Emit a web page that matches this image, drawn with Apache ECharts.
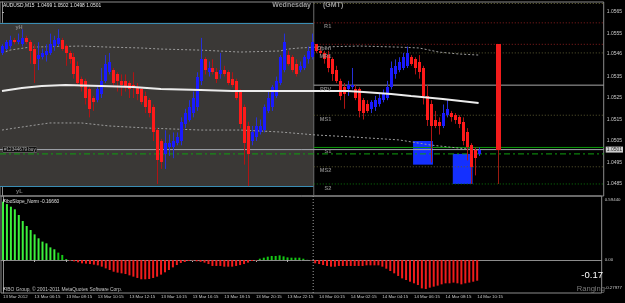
<!DOCTYPE html>
<html><head><meta charset="utf-8">
<script src="https://cdn.jsdelivr.net/npm/echarts@6/dist/echarts.min.js"></script>
<style>html,body{margin:0;padding:0;background:#000;}#c{width:625px;height:303px;}</style>
</head><body><div id="c"></div>
<script>
// ---------------- DATA ----------------
const tickLabels = ['13 Mar 2012','13 Mar 06:15','13 Mar 08:15','13 Mar 10:15','13 Mar 12:15','13 Mar 14:15','13 Mar 16:15','13 Mar 18:15','13 Mar 20:15','13 Mar 22:15','14 Mar 00:15','14 Mar 02:15','14 Mar 04:15','14 Mar 06:15','14 Mar 08:15','14 Mar 10:15'];
const priceTicks = [1.0565,1.0555,1.05455,1.0535,1.0525,1.0515,1.0505,1.0495,1.0485];
const priceTickLabels = ['1.0565','1.0555','1.0546','1.0535','1.0525','1.0515','1.0505','1.0495','1.0485'];
const indTicks = [0.5944,0,-0.27977];
const indTickLabels = ['0.59440','0.00','-0.27977'];

const opens = [1.0546,1.0548,1.0549,1.0552,1.0551,1.0550,1.0553,1.0551,1.0548,1.0543,1.0544,1.0545,1.0546,1.0549,1.0550,1.0552,1.0549,1.0546,1.0544,1.0540,
1.0534,1.0533,1.0529,1.0525,1.0524,1.0527,1.0533,1.0537,1.0538,1.0536,1.0533,1.0533,1.0532,1.0531,1.0530,1.0529,1.0526,1.0524,1.0521,1.0510,
1.0505,1.0499,1.0502,1.0502,1.0504,1.0505,1.0513,1.0515,1.0518,1.0521,1.0533,1.0543,1.0537,1.0539,1.0537,1.0536,1.0538,1.0537,1.0534,1.0533,
1.0528,1.0521,1.0512,1.0505,1.0507,1.0509,1.0510,1.0519,1.0521,1.0526,1.0532,1.0538,1.0545,1.0544,1.0541,1.0538,1.0539,1.0543,1.0544,1.0550,
1.0547,1.0546,1.0545,1.0543,1.0538,1.0533,1.0530,1.0529,1.0530,1.0529,1.0529,1.0524,1.0522,1.0520,1.0521,1.0522,1.0524,1.0525,1.0530,1.0536,
1.0538,1.0539,1.0540,1.0544,1.0543,1.0542,1.0539,1.0526,1.0522,1.0515,1.0514,1.0512,1.0517,1.0518,1.0517,1.0516,1.0514,1.0509,1.0503,1.0501,1.0499];
const closes = [1.0549,1.0551,1.0552,1.0551,1.0552,1.0553,1.0551,1.0547,1.0541,1.0545,1.0546,1.0547,1.0550,1.0552,1.0553,1.0548,1.0546,1.0543,1.0536,1.0532,
1.0530,1.0525,1.0520,1.0523,1.0529,1.0533,1.0541,1.0542,1.0532,1.0533,1.0531,1.0530,1.0529,1.0530,1.0527,1.0523,1.0521,1.0518,1.0509,1.0496,
1.0495,1.0504,1.0504,1.0505,1.0507,1.0514,1.0518,1.0521,1.0525,1.0535,1.0543,1.0538,1.0539,1.0537,1.0534,1.0538,1.0536,1.0532,1.0531,1.0525,
1.0513,1.0504,1.0499,1.0509,1.0512,1.0512,1.0521,1.0525,1.0530,1.0533,1.0544,1.0551,1.0541,1.0538,1.0536,1.0540,1.0544,1.0547,1.0551,1.0547,
1.0546,1.0543,1.0539,1.0536,1.0533,1.0526,1.0527,1.0531,1.0531,1.0525,1.0519,1.0518,1.0519,1.0523,1.0524,1.0525,1.0527,1.0530,1.0539,1.0540,
1.0542,1.0544,1.0546,1.0541,1.0539,1.0537,1.0526,1.0515,1.0512,1.0512,1.0512,1.0518,1.0520,1.0516,1.0515,1.0513,1.0505,1.0502,1.0493,1.0497,1.0501];
const highs = [1.0550,1.0552,1.0554,1.0553,1.0555,1.0557,1.0554,1.0552,1.0550,1.0551,1.0548,1.0550,1.0555,1.0554,1.0557,1.0553,1.0550,1.0547,1.0546,1.0542,
1.0535,1.0534,1.0530,1.0526,1.0531,1.0539,1.0545,1.0546,1.0539,1.0537,1.0536,1.0536,1.0533,1.0537,1.0532,1.0530,1.0528,1.0525,1.0522,1.0511,
1.0506,1.0510,1.0508,1.0509,1.0509,1.0516,1.0520,1.0524,1.0528,1.0537,1.0553,1.0544,1.0542,1.0543,1.0539,1.0546,1.0540,1.0538,1.0537,1.0534,
1.0529,1.0522,1.0514,1.0512,1.0516,1.0515,1.0522,1.0528,1.0531,1.0535,1.0545,1.0555,1.0547,1.0545,1.0543,1.0542,1.0545,1.0549,1.0555,1.0550,
1.0549,1.0547,1.0547,1.0544,1.0540,1.0534,1.0532,1.0533,1.0539,1.0531,1.0530,1.0525,1.0524,1.0524,1.0526,1.0527,1.0529,1.0533,1.0542,1.0543,
1.0544,1.0546,1.0549,1.0545,1.0544,1.0545,1.0540,1.0531,1.0524,1.0519,1.0516,1.0522,1.0524,1.0519,1.0518,1.0517,1.0516,1.0511,1.0504,1.0502,1.0502];
const lows = [1.0545,1.0547,1.0548,1.0550,1.0550,1.0549,1.0550,1.0541,1.0532,1.0538,1.0543,1.0542,1.0545,1.0547,1.0549,1.0547,1.0540,1.0541,1.0534,1.0531,
1.0528,1.0522,1.0516,1.0519,1.0523,1.0525,1.0532,1.0536,1.0531,1.0528,1.0526,1.0528,1.0525,1.0525,1.0524,1.0522,1.0518,1.0516,1.0505,1.0485,
1.0492,1.0492,1.0498,1.0497,1.0503,1.0503,1.0511,1.0514,1.0516,1.0519,1.0531,1.0536,1.0535,1.0536,1.0532,1.0534,1.0535,1.0531,1.0530,1.0524,
1.0511,1.0494,1.0484,1.0503,1.0505,1.0508,1.0509,1.0518,1.0519,1.0525,1.0531,1.0537,1.0540,1.0537,1.0535,1.0537,1.0538,1.0541,1.0543,1.0546,
1.0545,1.0541,1.0537,1.0533,1.0532,1.0524,1.0520,1.0526,1.0529,1.0524,1.0516,1.0515,1.0518,1.0518,1.0519,1.0521,1.0523,1.0524,1.0529,1.0534,
1.0537,1.0538,1.0539,1.0540,1.0536,1.0534,1.0522,1.0512,1.0495,1.0511,1.0508,1.0511,1.0516,1.0514,1.0513,1.0511,1.0503,1.0496,1.0485,1.0489,1.0498];

// today's daily bar (open, close, low, high) drawn right of price
const dayBarIndex = 125;
const dayBar = [1.0550, 1.0501, 1.0485, 1.0550];

// moving average and envelope points [bar index, price]
const maPoints = [[0,1.05283],[5,1.05297],[10,1.05306],[16,1.05311],[25,1.05306],[33,1.05301],[40,1.05292],[50,1.05287],[58,1.05283],[70,1.05283],[79,1.05283],[87,1.05283],[91,1.05278],[98,1.05269],[103,1.05259],[111,1.05245],[120,1.05227]];
const upperBand = [[0,1.05459],[2,1.05473],[7,1.05487],[20,1.05492],[27,1.05487],[35,1.05483],[40,1.05478],[50,1.05473],[60,1.05464],[70,1.05469],[72,1.05478],[75,1.05483],[79,1.05487],[90,1.05492],[100,1.05487],[105,1.05483],[110,1.05464],[115,1.05455],[120,1.05450]];
const lowerBand = [[0,1.05101],[5,1.05115],[12,1.05134],[20,1.05134],[27,1.05120],[37,1.05110],[50,1.05101],[60,1.05101],[70,1.05092],[79,1.05078],[88,1.05069],[100,1.05055],[108,1.05031],[115,1.05017],[120,1.05008]];

// previous day range, pivots, order, bid
const dayBreak = 78.5;
const yHigh = 1.0560, yLow = 1.0484;
const pivotNames = ['R1','Open','MR1','PPV','MS1','S1','MS2','S2'];
const pivotLevels = [1.0560,1.0550,1.0546,1.0531,1.0517,1.0502,1.0493,1.0485];
const topLevel = 1.0569;
const bidPrice = 1.0501;
const orderPrice = 1.0499;
const orderText = '#12344679 buy';

// range boxes
const boxStart = [104, 114];
const boxEnd = [108, 118];
const boxHigh = [1.0505, 1.0499];
const boxLow = [1.0494, 1.0485];

// FiboSlope_Norm histogram
const slope = [0.578,0.554,0.528,0.502,0.446,0.386,0.337,0.297,0.254,0.215,0.182,0.165,0.125,0.106,0.073,0.050,0.010,
-0.007,-0.013,-0.023,-0.033,-0.036,-0.040,-0.046,-0.053,-0.066,-0.083,-0.099,-0.116,-0.125,-0.132,-0.139,-0.152,-0.165,-0.178,-0.191,-0.191,
-0.188,-0.178,-0.165,-0.145,-0.122,-0.099,-0.073,-0.050,-0.030,-0.020,-0.010,-0.007,-0.013,-0.018,-0.026,-0.040,-0.059,-0.059,-0.059,-0.066,
-0.066,-0.066,-0.059,-0.050,-0.040,-0.026,-0.010,-0.007,0.013,0.023,0.033,0.040,0.040,0.046,0.036,0.026,0.023,0.023,0.023,0.013,0.003,-0.007,
-0.033,-0.040,-0.050,-0.059,-0.066,-0.066,-0.059,-0.059,-0.059,-0.059,-0.059,-0.059,-0.059,-0.053,-0.053,-0.053,-0.053,-0.066,-0.086,-0.109,
-0.132,-0.158,-0.182,-0.198,-0.215,-0.231,-0.248,-0.281,-0.287,-0.274,-0.264,-0.254,-0.241,-0.231,-0.231,-0.224,-0.231,-0.241,-0.231,-0.224,-0.215,-0.205];

// ---------------- CHART ----------------
const FONT = 'Liberation Sans';
const N = 152;
const cats = Array.from({length: N}, (_, i) => i);
const xMin = -0.5, xMax = N - 0.5;
const pMin = 1.04794, pMax = 1.05697;
const iMin = -0.3269, iMax = 0.6340;

const candleData = opens.map((o, i) => [i, o, closes[i], lows[i], highs[i]]);

function candleRender(bodyW, upFill, dnFill, upWick, dnWick) {
  return function (params, api) {
    const i = api.value(0), o = api.value(1), c = api.value(2), l = api.value(3), h = api.value(4);
    const pH = api.coord([i, h]), pL = api.coord([i, l]), pO = api.coord([i, o]), pC = api.coord([i, c]);
    const cx = Math.round(pH[0]);
    const up = c >= o;
    const top = Math.round(Math.min(pO[1], pC[1]));
    const bot = Math.round(Math.max(pO[1], pC[1]));
    return {type: 'group', children: [
      {type: 'line', shape: {x1: cx + 0.5, y1: pH[1], x2: cx + 0.5, y2: pL[1]}, style: {stroke: up ? upWick : dnWick, lineWidth: 1}},
      {type: 'rect', shape: {x: cx + 0.5 - bodyW / 2, y: top, width: bodyW, height: Math.max(1, bot - top)}, style: {fill: up ? upFill : dnFill}}
    ]};
  };
}

function hline(price, x0, x1, color, type, width, z) {
  return {type: 'line', xAxisIndex: 1, yAxisIndex: 0, data: [[x0, price], [x1, price]], symbol: 'none', silent: true,
    lineStyle: {color: color, type: type, width: width || 1}, z: z || 2};
}

const pivotStyle = {
  R1: ['#8a1f1f', [1, 2]], Open: ['#8a1f1f', [1, 2]], MR1: ['#5c5a32', [1, 2]], PPV: ['#a8a8a8', 'solid'],
  MS1: ['#5c5a32', [1, 2]], S1: ['#0a9a0a', 'solid'], MS2: ['#5c5a32', [1, 2]], S2: ['#0b7a0b', [1, 2]]
};

const series = [];
// previous day shaded range
series.push({type: 'custom', xAxisIndex: 1, yAxisIndex: 0, z: 1, silent: true,
  data: [[xMin, dayBreak, yHigh, yLow]],
  renderItem: function (params, api) {
    const a = api.coord([api.value(0), api.value(2)]);
    const b = api.coord([api.value(1), api.value(3)]);
    return {type: 'group', children: [
      {type: 'rect', shape: {x: a[0], y: a[1], width: b[0] - a[0], height: b[1] - a[1]}, style: {fill: '#3a3836'}},
      {type: 'line', shape: {x1: a[0], y1: Math.round(a[1]) + 0.5, x2: b[0], y2: Math.round(a[1]) + 0.5}, style: {stroke: '#3a8db4', lineWidth: 1}},
      {type: 'line', shape: {x1: a[0], y1: Math.round(b[1]) + 0.5, x2: b[0], y2: Math.round(b[1]) + 0.5}, style: {stroke: '#3a8db4', lineWidth: 1}}
    ]};
  }});
// range boxes
series.push({type: 'custom', xAxisIndex: 1, yAxisIndex: 0, z: 2, silent: true,
  data: boxStart.map((s, k) => [s, boxEnd[k], boxHigh[k], boxLow[k]]),
  renderItem: function (params, api) {
    const a = api.coord([api.value(0) - 0.5, api.value(2)]);
    const b = api.coord([api.value(1) + 0.5, api.value(3)]);
    return {type: 'rect', shape: {x: a[0], y: a[1], width: b[0] - a[0], height: b[1] - a[1]}, style: {fill: '#1430ff'}};
  }});
// separator (main)
series.push({type: 'line', xAxisIndex: 1, yAxisIndex: 0, symbol: 'none', silent: true, z: 2,
  data: [[dayBreak, pMin], [dayBreak, pMax]], lineStyle: {color: '#6e6e6e', width: 1}});
// pivots
series.push(hline(topLevel, dayBreak, xMax, '#6b6a3a', [1, 2], 1, 2));
pivotNames.forEach((n, k) => {
  series.push(hline(pivotLevels[k], dayBreak, xMax, pivotStyle[n][0], pivotStyle[n][1], 1, 2));
});
// bid + order lines
series.push(hline(bidPrice, xMin, xMax, '#a4a8b0', 'solid', 1, 3));
series.push(hline(orderPrice, xMin, xMax, '#10a010', [6, 3, 2, 3], 1, 3));
// envelopes
[upperBand, lowerBand].forEach(b => series.push({type: 'line', xAxisIndex: 1, yAxisIndex: 0, data: b, symbol: 'none', silent: true, z: 3,
  lineStyle: {color: '#9c9c9c', width: 1, type: [2, 2]}}));
// candles
series.push({type: 'custom', xAxisIndex: 0, yAxisIndex: 0, z: 4, silent: true, data: candleData,
  renderItem: candleRender(3, '#1a1aff', '#ff1a1a', '#2630d8', '#b01414')});
// daily bar
series.push({type: 'custom', xAxisIndex: 0, yAxisIndex: 0, z: 4, silent: true,
  data: [[dayBarIndex, dayBar[0], dayBar[1], dayBar[2], dayBar[3]]],
  renderItem: candleRender(5, '#1a1aff', '#f21c1c', '#2630d8', '#9a1a10')});
// moving average
series.push({type: 'line', xAxisIndex: 1, yAxisIndex: 0, data: maPoints, symbol: 'none', silent: true, z: 5,
  lineStyle: {color: '#ececec', width: 2}});
// text labels inside main chart
const lbl = [];
pivotNames.forEach((n, k) => lbl.push({value: [82.9, pivotLevels[k]], label: {formatter: n}}));
lbl.push({value: [5.2, yHigh], label: {formatter: 'yH', offset: [0, 2]}});
lbl.push({value: [5.2, yLow], label: {formatter: 'yL', offset: [0, 2]}});
series.push({type: 'scatter', xAxisIndex: 1, yAxisIndex: 0, symbolSize: 0.1, itemStyle: {color: 'transparent'}, silent: true, z: 6,
  data: lbl,
  label: {show: true, position: 'inside', align: 'right', verticalAlign: 'top', offset: [0, 1], color: '#9a9a9a',
    fontFamily: FONT, fontSize: 5.6, fontWeight: 'bold'}});
series.push({type: 'scatter', xAxisIndex: 1, yAxisIndex: 0, symbolSize: 0.1, itemStyle: {color: 'transparent'}, silent: true, z: 7,
  data: [{value: [xMin, bidPrice], label: {formatter: orderText}}],
  label: {show: true, position: 'inside', align: 'left', verticalAlign: 'middle', offset: [3, 0], color: '#d8d8d8',
    backgroundColor: '#000', borderColor: '#7a7a7a', borderWidth: 0.5, padding: [0, 1, 0, 1], fontFamily: FONT, fontSize: 4.6}});
// price tag
series.push({type: 'scatter', xAxisIndex: 1, yAxisIndex: 0, symbolSize: 0.1, itemStyle: {color: 'transparent'}, silent: true, z: 8, clip: false,
  data: [{value: [xMax, bidPrice], label: {formatter: bidPrice.toFixed(4)}}],
  label: {show: true, position: 'inside', align: 'left', verticalAlign: 'middle', offset: [2, 0], color: '#000',
    backgroundColor: '#fff', padding: [1, 1, 0, 1], fontFamily: FONT, fontSize: 5}});
// indicator separator
series.push({type: 'line', xAxisIndex: 3, yAxisIndex: 1, symbol: 'none', silent: true, z: 2,
  data: [[dayBreak, iMin], [dayBreak, iMax]], lineStyle: {color: '#a0a0a0', width: 1, type: [1, 2]}});
// histogram
series.push({type: 'bar', xAxisIndex: 2, yAxisIndex: 1, barWidth: 2, silent: true, z: 3,
  data: slope,
  itemStyle: {color: function (p) {
    const v = p.value;
    if (v >= 0) return v < 0.01 ? '#126e12' : (v > 0.08 ? '#3cf03c' : '#16c816');
    return v > -0.009 ? '#8a1010' : '#f01c1c';
  }}});

const option = {
  backgroundColor: '#000',
  animation: false,
  textStyle: {fontFamily: FONT},
  title: [
    {text: 'AUDUSD,M15  1.0499 1.0502 1.0498 1.0501', left: 3, top: 3, padding: 0, textStyle: {fontSize: 4.9, color: '#e8e8e8', fontWeight: 'normal', fontFamily: FONT}},
    {text: 'Wednesday', right: 314, top: 2, padding: 0, textStyle: {fontSize: 7, color: '#9a9a9a', fontWeight: 'bold', fontFamily: FONT}},
    {text: '(GMT)', left: 323, top: 2, padding: 0, textStyle: {fontSize: 7, color: '#9a9a9a', fontWeight: 'bold', fontFamily: FONT}},
    {text: 'FiboSlope_Norm -0.16660', left: 3, top: 199, padding: 0, textStyle: {fontSize: 4.8, color: '#e0e0e0', fontWeight: 'normal', fontFamily: FONT}},
    {text: 'FIBO Group, © 2001-2011 MetaQuotes Software Corp.', left: 3, top: 287, padding: 0, textStyle: {fontSize: 4.9, color: '#c8c8c8', fontWeight: 'normal', fontFamily: FONT}},
    {text: '-0.17', right: 22, top: 270, padding: 0, textStyle: {fontSize: 9.5, color: '#ffffff', fontWeight: 'normal', fontFamily: FONT}},
    {text: 'Ranging', right: 20, top: 285, padding: 0, textStyle: {fontSize: 7.6, color: '#7c7c7c', fontWeight: 'normal', fontFamily: FONT}}
  ],
  grid: [
    {left: 0, right: 20, top: 2, height: 194, show: true, borderColor: '#8c8c8c', borderWidth: 1, backgroundColor: 'transparent'},
    {left: 0, right: 20, top: 196, height: 97, show: true, borderColor: '#8c8c8c', borderWidth: 1, backgroundColor: 'transparent'}
  ],
  xAxis: [
    {type: 'category', gridIndex: 0, data: cats, boundaryGap: true, show: false},
    {type: 'value', gridIndex: 0, min: xMin, max: xMax, show: false},
    {type: 'category', gridIndex: 1, data: cats, boundaryGap: true,
      axisLine: {show: true, lineStyle: {color: '#8c8c8c'}},
      axisTick: {show: true, alignWithLabel: true, length: 2, lineStyle: {color: '#b0b0b0'},
        interval: (i) => i % 8 === 0 && i / 8 < tickLabels.length},
      axisLabel: {show: true, align: 'left', margin: 2, fontSize: 4.4, color: '#c8c8c8', fontFamily: FONT,
        interval: (i) => i % 8 === 0 && i / 8 < tickLabels.length,
        formatter: (v, i) => tickLabels[i / 8] || ''},
      splitLine: {show: false}},
    {type: 'value', gridIndex: 1, min: xMin, max: xMax, show: false}
  ],
  yAxis: [
    {type: 'value', gridIndex: 0, position: 'right', min: pMin, max: pMax, scale: true,
      splitLine: {show: false},
      axisLine: {show: true, lineStyle: {color: '#8c8c8c'}},
      axisTick: {show: true, length: 2, lineStyle: {color: '#b0b0b0'}, customValues: priceTicks},
      axisLabel: {show: true, customValues: priceTicks, margin: 3, fontSize: 5, color: '#c8c8c8', fontFamily: FONT,
        formatter: (v) => { const k = priceTicks.indexOf(v); return k >= 0 ? priceTickLabels[k] : ''; }}},
    {type: 'value', gridIndex: 1, position: 'right', min: iMin, max: iMax,
      splitLine: {show: false},
      axisLine: {show: true, lineStyle: {color: '#8c8c8c'}},
      axisTick: {show: true, length: 2, lineStyle: {color: '#b0b0b0'}, customValues: indTicks},
      axisLabel: {show: true, customValues: indTicks, margin: 3, fontSize: 4.4, color: '#c8c8c8', fontFamily: FONT,
        formatter: (v) => { const k = indTicks.indexOf(v); return k >= 0 ? indTickLabels[k] : ''; }}}
  ],
  series: series
};

const chart = echarts.init(document.getElementById('c'), null, {renderer: 'canvas'});
chart.setOption(option);
</script></body></html>
